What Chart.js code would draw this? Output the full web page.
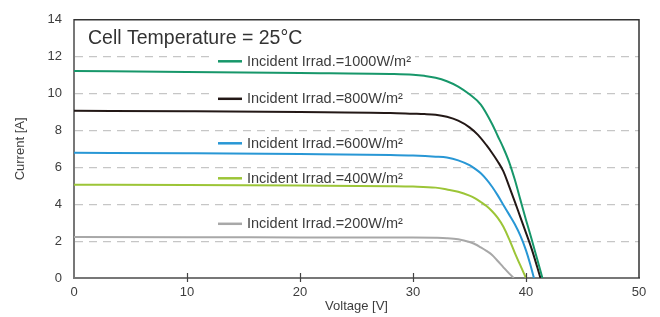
<!DOCTYPE html>
<html lang="en">
<head>
    <meta charset="UTF-8">
    <title>I-V Curves</title>
    <script src="https://cdn.jsdelivr.net/npm/chart.js"></script>
    <style>
        body { margin: 0; background: #fff; }
        .chart-box { width: 660px; height: 317px; }
    </style>
</head>
<body>
    <div class="chart-box">
        <canvas id="ivChart" width="660" height="317"></canvas>
    </div>
<script>
// values
const chartTitle = 'Cell Temperature = 25°C';
const xTicks = [0, 10, 20, 30, 40, 50];
const yTicks = [0, 2, 4, 6, 8, 10, 12, 14];

const labels1000 = 'Incident Irrad.=1000W/m²';
const labels800 = 'Incident Irrad.=800W/m²';
const labels600 = 'Incident Irrad.=600W/m²';
const labels400 = 'Incident Irrad.=400W/m²';
const labels200 = 'Incident Irrad.=200W/m²';

const volt1000 = [0, 10, 20, 28, 30, 31, 32, 33, 34, 35, 36, 37, 37.5, 38, 38.5, 39, 39.5, 40, 40.5, 41, 41.45];
const amps1000 = [11.22, 11.17, 11.11, 11.06, 11.02, 10.96, 10.86, 10.67, 10.38, 9.96, 9.4, 8.35, 7.7, 7.05, 6.3, 5.35, 4.25, 3.15, 2.1, 1.0, 0];

const volt800 = [0, 10, 20, 28, 30, 31, 32, 33, 34, 35, 35.75, 36.5, 37, 37.5, 38, 38.5, 39, 39.5, 40, 40.5, 41, 41.28];
const amps800 = [9.07, 9.04, 9.0, 8.95, 8.91, 8.89, 8.85, 8.74, 8.53, 8.17, 7.76, 7.2, 6.78, 6.32, 5.78, 4.98, 4.16, 3.3, 2.45, 1.58, 0.58, 0];

const volt600 = [0, 10, 20, 28, 30, 32, 33, 34, 35, 35.5, 36, 36.5, 37, 37.5, 38, 38.5, 39, 39.5, 40, 40.35, 40.7];
const amps600 = [6.79, 6.76, 6.72, 6.67, 6.64, 6.58, 6.53, 6.38, 6.12, 5.92, 5.68, 5.35, 4.95, 4.48, 3.96, 3.45, 2.93, 2.3, 1.5, 0.8, 0];

const volt400 = [0, 10, 20, 28, 30, 32, 33, 34, 35, 35.5, 36, 36.5, 37, 37.5, 38, 38.5, 39, 39.5, 40];
const amps400 = [5.06, 5.04, 5.01, 4.98, 4.96, 4.9, 4.8, 4.68, 4.47, 4.32, 4.12, 3.9, 3.62, 3.26, 2.78, 2.12, 1.38, 0.68, 0];

const volt200 = [0, 10, 20, 28, 30, 32, 33, 34, 35, 35.5, 36, 36.5, 37, 37.5, 38, 38.5, 38.92];
const amps200 = [2.22, 2.21, 2.2, 2.19, 2.19, 2.18, 2.16, 2.1, 1.95, 1.83, 1.66, 1.47, 1.25, 0.92, 0.58, 0.25, 0];

const FONT = "'Liberation Sans', Arial, Helvetica, sans-serif";
const TEXT = '#3d3d3d';

function toPoints(xs, ys) {
    return xs.map((v, i) => ({ x: v, y: ys[i] }));
}

function series(label, xs, ys, color, legendY) {
    return {
        label: label,
        data: toPoints(xs, ys),
        borderColor: color,
        backgroundColor: color,
        borderWidth: 2,
        pointRadius: 0,
        cubicInterpolationMode: 'monotone',
        fill: false,
        legendY: legendY // offset from top of plot area, px
    };
}

// hand-placed legend (under the curves, over the grid)
const legendPlugin = {
    id: 'handLegend',
    beforeDatasetsDraw(chart) {
        const ctx = chart.ctx;
        const area = chart.chartArea;
        const lx = area.left + 144;

        ctx.save();
        ctx.font = '14.5px ' + FONT;
        ctx.textBaseline = 'middle';
        ctx.textAlign = 'left';
        chart.data.datasets.forEach(ds => {
            const y = area.top + ds.legendY;
            const w = ctx.measureText(ds.label).width;
            ctx.fillStyle = '#fff';
            ctx.fillRect(lx - 4, y - 8, 29 + w + 8, 16);
            ctx.strokeStyle = ds.borderColor;
            ctx.lineWidth = 2.5;
            ctx.beginPath();
            ctx.moveTo(lx, y);
            ctx.lineTo(lx + 24, y);
            ctx.stroke();
            ctx.fillStyle = TEXT;
            ctx.fillText(ds.label, lx + 29, y + 0.5);
        });
        ctx.restore();
    }
};

// title, frame and inner x ticks
const decorPlugin = {
    id: 'decor',
    afterDraw(chart) {
        const ctx = chart.ctx;
        const area = chart.chartArea;
        const xs = chart.scales.x;

        ctx.save();
        // top + right frame
        ctx.strokeStyle = '#333';
        ctx.lineWidth = 1.5;
        ctx.beginPath();
        ctx.moveTo(area.left, area.top);
        ctx.lineTo(area.right, area.top);
        ctx.lineTo(area.right, area.bottom);
        ctx.stroke();

        // short tick marks on the x axis
        ctx.strokeStyle = '#444';
        ctx.lineWidth = 1.2;
        xTicks.slice(1, -1).forEach(v => {
            const px = Math.round(xs.getPixelForValue(v)) + 0.5;
            ctx.beginPath();
            ctx.moveTo(px, area.bottom - 5);
            ctx.lineTo(px, area.bottom + 4);
            ctx.stroke();
        });

        // title inside plot
        ctx.fillStyle = '#333';
        ctx.font = '19.5px ' + FONT;
        ctx.textBaseline = 'middle';
        ctx.textAlign = 'left';
        ctx.fillText(chartTitle, area.left + 14, area.top + 19);
        ctx.restore();
    }
};

const ctx = document.getElementById('ivChart').getContext('2d');
const ivChart = new Chart(ctx, {
    type: 'line',
    data: {
        datasets: [
            series(labels1000, volt1000, amps1000, '#17976a', 41.5),
            series(labels800, volt800, amps800, '#231816', 79),
            series(labels600, volt600, amps600, '#2897d5', 123.5),
            series(labels400, volt400, amps400, '#9cc537', 158.5),
            series(labels200, volt200, amps200, '#a8a8a8', 204)
        ]
    },
    options: {
        responsive: false,
        animation: false,
        layout: { padding: { left: 0, right: 21, top: 14, bottom: 0 } },
        plugins: {
            legend: { display: false },
            tooltip: { enabled: false }
        },
        scales: {
            x: {
                type: 'linear',
                min: 0,
                max: 50,
                afterBuildTicks: s => { s.ticks = xTicks.map(v => ({ value: v })); },
                afterFit: s => { s.height = 39; },
                grid: { display: false, drawTicks: false },
                border: { display: true, color: '#777', width: 2 },
                ticks: { padding: 7, color: TEXT, font: { family: FONT, size: 13 } },
                title: {
                    display: true,
                    text: 'Voltage [V]',
                    color: TEXT,
                    font: { family: FONT, size: 13 },
                    padding: { top: 0, bottom: 3 }
                }
            },
            y: {
                min: 0,
                max: 14,
                afterBuildTicks: s => { s.ticks = yTicks.map(v => ({ value: v })); },
                afterFit: s => { s.width = 74; },
                grid: {
                    drawTicks: false,
                    color: c => (c.tick.value === 0 || c.tick.value === 14) ? 'rgba(0,0,0,0)' : '#c6c6c6',
                    lineWidth: 1.2
                },
                // in v4 border.dash styles the grid lines
                border: { display: true, color: '#777', width: 2, dash: [8, 6] },
                ticks: { padding: 12, color: TEXT, font: { family: FONT, size: 13 } },
                title: {
                    display: true,
                    text: 'Current [A]',
                    color: TEXT,
                    font: { family: FONT, size: 13 },
                    padding: { top: 13, bottom: 0 }
                }
            }
        }
    },
    plugins: [legendPlugin, decorPlugin]
});
</script>
</body>
</html>
